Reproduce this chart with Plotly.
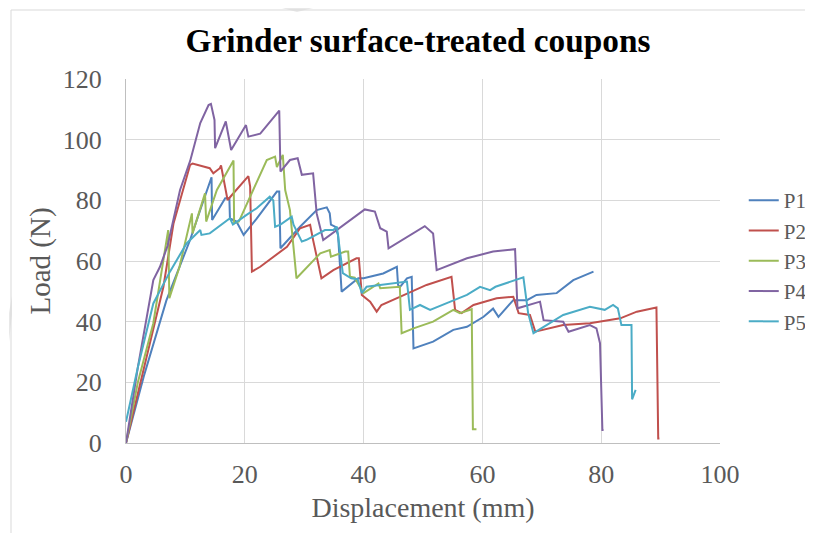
import plotly.graph_objects as go

title = "Grinder surface-treated coupons"
x_title = "Displacement (mm)"
y_title = "Load (N)"
x_ticks = [0, 20, 40, 60, 80, 100]
y_ticks = [0, 20, 40, 60, 80, 100, 120]

p1_x = [0, 3, 6.8, 10.8, 12.7, 14.4, 14.5, 16.7, 17.4, 17.5, 18.6, 19.8, 22, 25.4, 25.8, 26, 29.3, 32.1, 33.8, 34.3, 34.5, 35.2, 35.7, 36.3, 39.1, 40, 43.3, 45.6, 45.8, 46.1, 47.3, 48.1, 48.4, 51.7, 55.1, 57.4, 60.2, 61.8, 62.7, 65.2, 67.5, 69.1, 72.5, 75.3, 78.7]
p1_y = [0, 22, 47, 67, 78, 87.6, 73.5, 80.7, 80.7, 74, 73, 68.6, 74, 82.9, 82.9, 64.2, 71.3, 76.8, 77.7, 75.7, 72, 71.3, 68.6, 49.9, 54.3, 54.3, 55.9, 58.1, 52.1, 51.4, 54.3, 54.8, 31.2, 33.4, 37.3, 38.3, 41.6, 44.3, 41.6, 47.1, 47.1, 48.8, 49.4, 53.7, 56.5]

p2_x = [0, 3, 6.3, 8, 10.8, 11.2, 12.5, 14.1, 14.7, 15.8, 16, 16.7, 17.1, 20.6, 20.9, 21.2, 22.6, 27.1, 29.3, 31, 31.5, 32.9, 34.9, 38.8, 39.2, 39.7, 41.1, 42.2, 43, 46.1, 50.6, 54.8, 55.4, 56.5, 58.5, 62.4, 65.2, 66.1, 68, 68.9, 73.6, 78.1, 83.2, 86, 89.3, 89.6, 89.8]
p2_y = [0, 25, 51.5, 72.4, 91.7, 92.1, 91.5, 90.6, 88.9, 90.6, 91.5, 83.4, 80.1, 88, 84.5, 56.5, 58.1, 64.7, 70.8, 71.9, 66.9, 54.3, 57, 60.9, 60.9, 48.8, 46.6, 43.3, 45.5, 48.2, 52.1, 54.8, 43.9, 42.8, 45.5, 47.7, 48.2, 42.8, 42.2, 36.7, 38.9, 39.5, 41.1, 43.3, 44.7, 1.5, 1.5]

p3_x = [0, 2, 4.6, 7.1, 7.3, 9, 11.1, 11.2, 13.3, 13.5, 15.3, 18.1, 18.2, 19, 23.7, 25.1, 25.4, 26.4, 26.8, 27.6, 28.7, 32.7, 34.3, 34.5, 36.9, 37.4, 37.7, 38.5, 40, 42.5, 42.8, 46.1, 46.4, 48.4, 51.7, 55.1, 56.2, 58.2, 58.4, 59]
p3_y = [0, 20, 39.5, 70.2, 47.7, 58, 75.7, 69.1, 82.3, 73, 83.4, 93.1, 72.4, 73, 93.3, 94.4, 91, 95, 83.4, 76.8, 54.3, 62.5, 63.6, 61.4, 63.1, 63.1, 54.8, 54.5, 49.4, 52.6, 51, 51.5, 36.2, 37.8, 40, 43.9, 42.8, 44.1, 4.5, 4.5]

p4_x = [0, 2, 4.6, 5.7, 7, 9.1, 10.8, 12.5, 13.9, 14.3, 14.9, 15, 16.8, 17.7, 20.2, 20.6, 22.6, 25.1, 25.8, 26, 27.6, 28.9, 29.6, 31.5, 32.1, 33.2, 40.2, 41.9, 42.8, 43.9, 44.2, 50.3, 51.7, 52.3, 57.4, 61.8, 65.5, 65.9, 69.7, 70.3, 73.6, 74.5, 78.1, 79.2, 79.8, 80.2, 80.4]
p4_y = [0, 25, 53.7, 58, 65, 83.4, 93, 105.5, 111.4, 111.8, 106.5, 97.2, 106, 96.6, 104.8, 101, 102, 108, 109.6, 89.5, 93.3, 93.9, 88.4, 88.9, 75.7, 66.9, 77, 76.3, 70.8, 69.7, 64.2, 71.5, 69.1, 57, 60.9, 63.1, 63.9, 44.4, 46.6, 40.5, 40, 36.7, 38.9, 37.8, 32.9, 4.3, 4.3]

p5_x = [0, 2, 4.6, 7.4, 10.2, 12.5, 12.7, 14.1, 17.5, 18, 20.3, 22, 24.2, 24.8, 25.1, 26, 27.9, 28.2, 29.6, 30.4, 33.5, 34.9, 35.5, 36, 36.5, 37.9, 39, 39.7, 40.5, 47.3, 47.8, 49.5, 51.2, 54, 57.4, 59.6, 61.3, 62.2, 66.9, 67.7, 68.6, 73.6, 78.1, 80.6, 82, 82.8, 83.4, 85.1, 85.2, 85.8]
p5_y = [7, 25, 46, 56.5, 65.8, 70.2, 68.6, 69.1, 74.1, 72, 75.2, 77.4, 81.2, 80, 71.3, 72, 74.6, 72, 66.4, 67, 70.2, 70.2, 71.3, 63.6, 56, 54.3, 54, 49.4, 51.5, 53.2, 43.9, 45.5, 43.9, 46.1, 48.8, 51.5, 50.4, 51.5, 54.6, 42.8, 36.2, 42.2, 44.9, 43.9, 45.5, 44.4, 38.9, 38.9, 14.4, 17.5]

series = [
    ("P1", p1_x, p1_y, "#4F81BD"),
    ("P2", p2_x, p2_y, "#C0504D"),
    ("P3", p3_x, p3_y, "#9BBB59"),
    ("P4", p4_x, p4_y, "#8064A2"),
    ("P5", p5_x, p5_y, "#4BACC6"),
]

fig = go.Figure()
for name, xs, ys, col in series:
    fig.add_trace(go.Scatter(x=xs, y=ys, mode="lines", name=name,
                             line=dict(color=col, width=2)))

FONT = "Liberation Serif, Times New Roman, serif"
# page has an 8px body offset; plot area target in page px: x 126..720, y 79..443
fig.update_layout(
    width=805, height=525,
    margin=dict(l=118, r=93, t=71, b=90, autoexpand=False),
    paper_bgcolor="white", plot_bgcolor="white",
    font=dict(family=FONT, size=26, color="#595959"),
    title=dict(text="<b>" + title + "</b>", x=0.5093, xanchor="center",
               y=0.939, yanchor="middle", yref="container",
               font=dict(family=FONT, size=33.3, color="black")),
    legend=dict(x=1.04, y=0.7225, xanchor="left", yanchor="top",
                font=dict(family=FONT, size=21, color="#595959"),
                itemwidth=30, bgcolor="rgba(0,0,0,0)"),
    showlegend=True,
)
fig.update_xaxes(range=[0, 100], tickvals=x_ticks, showgrid=True,
                 gridcolor="#d9d9d9", gridwidth=1, zeroline=False,
                 showline=True, linecolor="#bfbfbf", linewidth=1,
                 ticks="", ticklabelstandoff=8, tickfont=dict(size=26),
                 title=dict(text=x_title, font=dict(size=28), standoff=9))
fig.update_yaxes(range=[0, 120], tickvals=y_ticks, showgrid=True,
                 gridcolor="#d9d9d9", gridwidth=1, zeroline=False,
                 showline=True, linecolor="#bfbfbf", linewidth=1,
                 ticks="", ticklabelstandoff=18, tickfont=dict(size=26),
                 title=dict(text=y_title, font=dict(size=29), standoff=3))


def px(x):
    return (x - 126) / 594


def py(y):
    return (443 - y) / 364


# outer chart border (only left and top edges visible)
fig.add_shape(type="line", xref="paper", yref="paper",
              x0=px(11), x1=px(11), y0=py(540), y1=py(10),
              line=dict(color="#d9d9d9", width=1), layer="above")
fig.add_shape(type="line", xref="paper", yref="paper",
              x0=px(11), x1=px(820), y0=py(10), y1=py(10),
              line=dict(color="#d9d9d9", width=1), layer="above")
# faint watermark fragments
fig.add_shape(type="path", xref="paper", yref="paper",
              path=f"M {px(282)} {py(8)} L {px(313)} {py(8)} L {px(297)} {py(12)} Z",
              fillcolor="#e8e8e8", line=dict(width=0), layer="below")
fig.add_shape(type="path", xref="paper", yref="paper",
              path=f"M {px(9)} {py(313)} L {px(12)} {py(296)} L {px(12)} {py(314)} L {px(9)} {py(342)} Z",
              fillcolor="#e8e8e8", line=dict(width=0), layer="below")
fig.write_html("out.html")
